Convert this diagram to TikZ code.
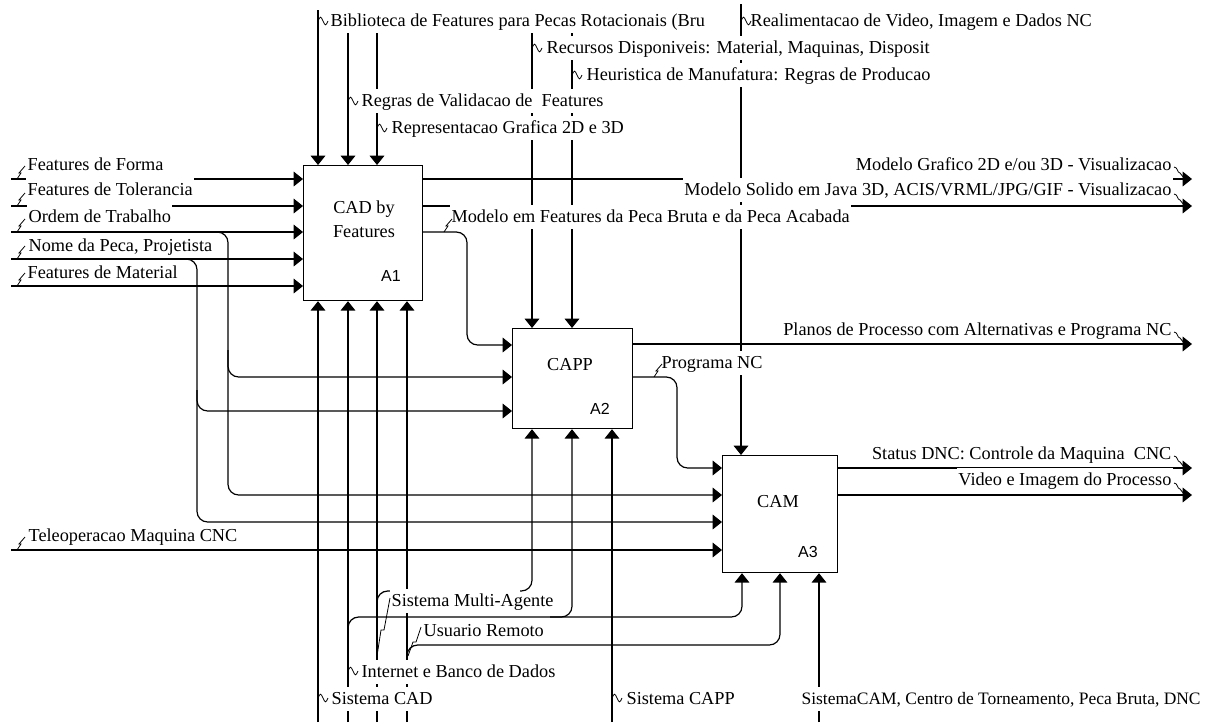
\documentclass[tikz,border=0pt]{standalone}
\usepackage{fontspec}
\setmainfont{Liberation Serif}
\newfontfamily\sansf{Liberation Sans}
\usetikzlibrary{arrows.meta}
\tikzset{
  ln/.style={line width=0.9pt},
  arr/.style={ln,-{Triangle[width=11pt,length=7pt]}},
  rc/.style={rounded corners=8pt},
  box/.style={draw,line width=0.9pt,fill=white,anchor=north west,inner sep=0pt},
  lbl/.style={font=\fontsize{13.7pt}{16pt}\selectfont,fill=white,inner xsep=1pt,inner ysep=0pt,text height=13pt,text depth=5pt,anchor=base west},
  lblr/.style={lbl,anchor=base east},
  ttl/.style={font=\fontsize{13.7pt}{18pt}\selectfont,align=center,inner sep=0pt},
  idx/.style={font=\sansf\fontsize{12pt}{14pt}\selectfont,inner sep=0pt},
  sq/.style={line width=0.6pt},
  tilde/.pic={\draw[sq] (0,0) .. controls (2,-5) and (3,-5) .. (5,0) .. controls (7,5) and (8,5) .. (10,0);},
  rsq/.pic={\draw[sq] (0,0) .. controls (4,0) and (3,6) .. (6,6) -- (10,11);},
  bolt/.pic={\draw[sq] (0,0) -- (4,-6) -- (2,-6) -- (8,-13);}
}
\begin{document}
\begin{tikzpicture}[x=0.75pt,y=-0.75pt]
\fill[white] (0,0) rectangle (1220,722);
\useasboundingbox (0,0) rectangle (1220,722);

% activity boxes
\node[box,minimum width=89.25pt,minimum height=101.25pt] (A1) at (303,165) {};
\node[box,minimum width=90pt,minimum height=75pt] (A2) at (512,328) {};
\node[box,minimum width=86.25pt,minimum height=87.75pt] (A3) at (722,455) {};
\node[ttl] (A1t) at (364,219) {CAD by\\Features};
\node[ttl] (A2t) at (570,365) {CAPP};
\node[ttl] (A3t) at (778,502) {CAM};
\node[idx] (A1n) at (391,276) {A1};
\node[idx] (A2n) at (600,409) {A2};
\node[idx] (A3n) at (808,552) {A3};

% coordinates
\coordinate (i1) at (11,179); \coordinate (i2) at (11,206); \coordinate (i3) at (11,232);
\coordinate (i4) at (11,259); \coordinate (i5) at (11,286); \coordinate (i6) at (11,550);
\coordinate (b3) at (214,232); \coordinate (h377) at (228,377); \coordinate (v3) at (228,350); \coordinate (h495) at (228,495);
\coordinate (b4) at (184,259); \coordinate (h411) at (197,411); \coordinate (v4) at (197,390); \coordinate (h522) at (197,522);
\coordinate (a2in) at (467,345);
\coordinate (e1) at (1192,179); \coordinate (e2) at (1192,206); \coordinate (e3) at (1192,344);
\coordinate (e4) at (1192,468); \coordinate (e5) at (1192,495);
\coordinate (pn1) at (677,377); \coordinate (pn2) at (677,468);
\coordinate (c1) at (318,10); \coordinate (c2) at (348,10); \coordinate (c3) at (377,10);
\coordinate (c4) at (532,10); \coordinate (c5) at (572,10); \coordinate (c6) at (741,4);
\coordinate (m1) at (318,722); \coordinate (m2) at (348,722); \coordinate (m3) at (377,722);
\coordinate (m4) at (407,722); \coordinate (m5) at (612,722); \coordinate (m6) at (819,722);
\coordinate (v2) at (348,640); \coordinate (j0) at (550,617); \coordinate (j1) at (742,617); \coordinate (j2) at (572,617);
\coordinate (v5) at (377,615); \coordinate (k0) at (520,591); \coordinate (k1) at (532,591);
\coordinate (v6) at (407,668); \coordinate (u1) at (780,645);

% inputs
\foreach \n in {1,...,5} \draw[arr] (i\n) -- (i\n -| A1.west);
\draw[arr] (i6) -- (i6 -| A3.west);
\draw[arr,rc] (b3) -| (h377) -- (h377 -| A2.west);
\draw[arr,rc] (v3) |- (h495 -| A3.west);
\draw[arr,rc] (b4) -| (h411) -- (h411 -| A2.west);
\draw[arr,rc] (v4) |- (h522 -| A3.west);

% outputs
\draw[arr] (e1 -| A1.east) -- (e1);
\draw[arr] (e2 -| A1.east) -- (e2);
\draw[arr,rc] (i3 -| A1.east) -| (a2in) -- (a2in -| A2.west);
\draw[arr] (e3 -| A2.east) -- (e3);
\draw[arr,rc] (pn1 -| A2.east) -| (pn2) -- (pn2 -| A3.west);
\draw[arr] (e4 -| A3.east) -- (e4);
\draw[arr] (e5 -| A3.east) -- (e5);

% controls
\foreach \n in {1,2,3} \draw[arr] (c\n) -- (c\n |- A1.north);
\foreach \n in {4,5} \draw[arr] (c\n) -- (c\n |- A2.north);
\draw[arr] (c6) -- (c6 |- A3.north);

% mechanisms
\foreach \n in {1,...,4} \draw[arr] (m\n) -- (m\n |- A1.south);
\draw[arr] (m5) -- (m5 |- A2.south);
\draw[arr] (m6) -- (m6 |- A3.south);
\draw[arr,rc] (v2) |- (j1) -- (j1 |- A3.south);
\draw[arr,rc] (j0) -| (j2 |- A2.south);
\draw[ln,rc] (v5) |- (k1);
\draw[arr,rc] (v6) |- (u1) -- (u1 |- A3.south);

% labels
\node[lbl] (t1) at (329,26) {Biblioteca de Features para Pecas Rotacionais (Bru};
\node[lbl] (t2) at (749,26) {Realimentacao de Video, Imagem e Dados NC};
\node[lbl] (t3) at (545,53) {Recursos Disponiveis: Material, Maquinas, Disposit};
\node[lbl] (t4) at (585,80) {Heuristica de Manufatura: Regras de Producao};
\node[lbl] (t5) at (360,106) {Regras de Validacao de\ \ Features};
\node[lbl] (t6) at (390,133) {Representacao Grafica 2D e 3D};

\node[lbl] (l1) at (26,170) {Features de Forma};
\node[lbl] (l2) at (26,195) {Features de Tolerancia};
\node[lbl] (l3) at (27,222) {Ordem de Trabalho};
\node[lbl] (l4) at (27,251) {Nome da Peca, Projetista};
\node[lbl] (l5) at (26,278) {Features de Material};
\node[lbl] (l6) at (27,541) {Teleoperacao Maquina CNC};

\node[lblr] (r1) at (1173,170) {Modelo Grafico 2D e/ou 3D - Visualizacao};
\node[lblr] (r2) at (1173,195) {Modelo Solido em Java 3D, ACIS/VRML/JPG/GIF - Visualizacao};
\node[lblr] (r3) at (1173,335) {Planos de Processo com Alternativas e Programa NC};
\node[lblr] (r4) at (1173,459) {Status DNC: Controle da Maquina\ \ CNC};
\node[lblr] (r5) at (1173,485) {Video e Imagem do Processo};

\node[lbl] (mf) at (450,222) {Modelo em Features da Peca Bruta e da Peca Acabada};
\node[lbl] (pn) at (660,368) {Programa NC};

\node[lbl] (s1) at (390,606) {Sistema Multi-Agente};
\node[lbl] (s2) at (422,636) {Usuario Remoto};
\node[lbl] (s3) at (360,677) {Internet e Banco de Dados};
\node[lbl] (s4) at (330,704) {Sistema CAD};
\node[lbl] (s5) at (625,704) {Sistema CAPP};
\node[lbl,font=\fontsize{13.1pt}{16pt}\selectfont] (s6) at (800,704) {SistemaCAM, Centro de Torneamento, Peca Bruta, DNC};

% label squiggles
\foreach \y in {179,206,232,259,286,550} \pic at (17,\y) {bolt};
\pic at (444,232) {bolt};
\pic at (654,377) {bolt};
\pic at (318,21) {tilde}; \pic at (741,21) {tilde}; \pic at (532,48) {tilde};
\pic at (572,75) {tilde}; \pic at (348,101) {tilde}; \pic at (377,128) {tilde};
\pic at (348,671) {tilde}; \pic at (318,698) {tilde}; \pic at (612,698) {tilde};
\foreach \y in {179,206,344,468,495} \pic at (1174,\y-12) {rsq};
\draw[sq] (377,656) -- (381,630) -- (384,630) -- (390,598);
\draw[sq] (408,656) -- (413,642) -- (416,642) -- (421,627);
\draw[arr,rc] (k0) -| (k1 |- A2.south);
\end{tikzpicture}
\end{document}
